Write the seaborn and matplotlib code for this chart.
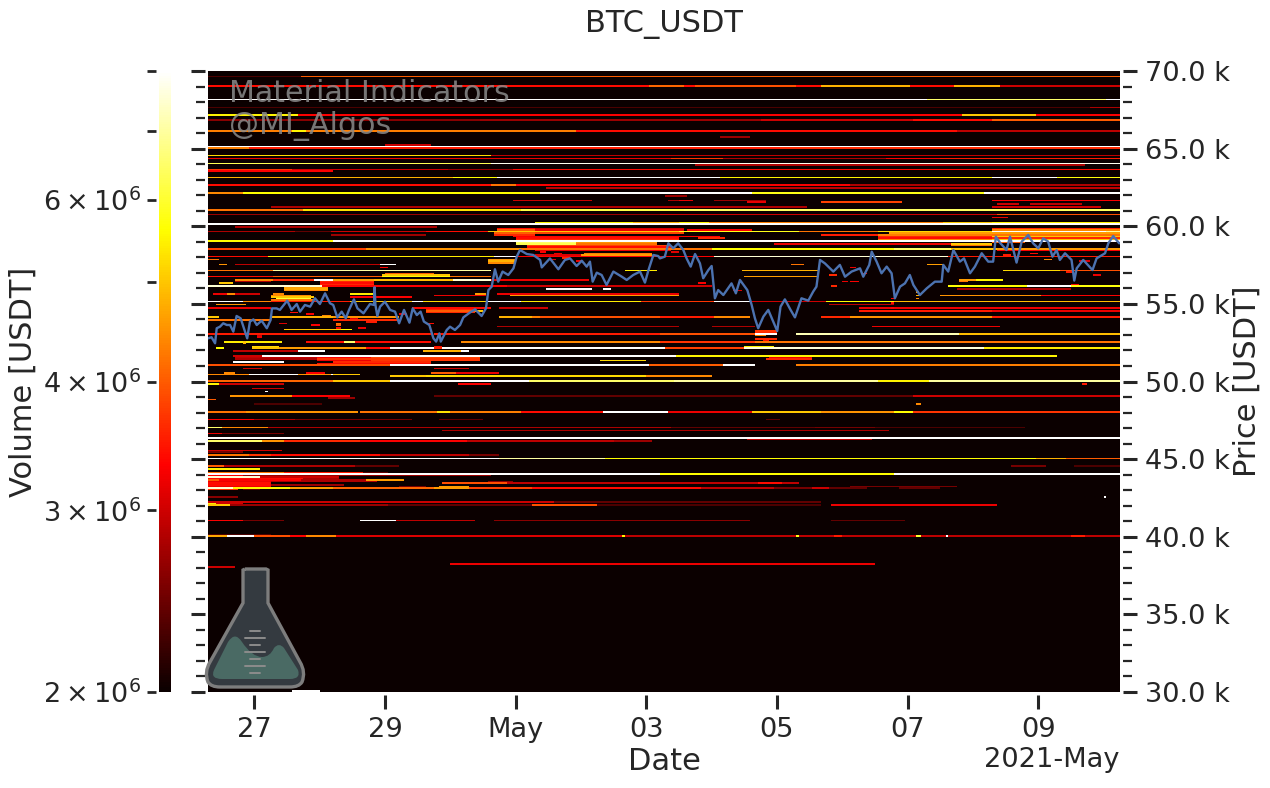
import numpy as np
import pandas as pd
import seaborn as sns
import matplotlib
matplotlib.use("Agg")
import matplotlib.pyplot as plt
import matplotlib.dates as mdates
from matplotlib.colors import LogNorm
from matplotlib.patches import PathPatch
from matplotlib.path import Path
from matplotlib.ticker import EngFormatter, MultipleLocator
from matplotlib.transforms import blended_transform_factory

symbol = "BTC_USDT"
start_time = "2021-04-26 07:00"
hours_total = 335
price_low, price_high, price_bin = 30000, 70000, 100

# resting order volume, (price, from hour, to hour, volume in millions of USDT)
bands_65k_70k = [
 (69600,0,34,2.3),(69600,34,335,4.0),
 (69000,0,162,3.4),(69000,162,175,4.1),(69000,175,179,3.4),(69000,179,216,3.9),(69000,216,225,3.4),
 (69000,225,258,4.8),(69000,258,274,3.4),(69000,274,291,4.8),(69000,291,335,3.0),
 (68100,0,264,8),(68100,264,330,6.5),(68100,330,335,8),
 (67600,0,324,2.3),(67600,324,335,2.8),
 (67100,0,33,5.5),(67100,33,277,3.3),(67100,277,304,5),(67100,304,335,3.3),
 (66800,0,100,2.6),(66800,100,203,2.7),(66800,203,259,3.0),(66800,259,288,3.4),(66800,288,335,4),
 (66100,0,31,4.3),(66100,31,36,5.5),(66100,36,135,4.3),(66100,135,275,3.4),(66100,275,335,2.9),
 (65700,188,199,2.7),(65200,65,82,3.0),
 (65100,0,335,8),
 (65000,0,15,4.3),(65000,15,210,3.5),(65000,210,335,3.6),
]
bands_60k_65k = [
 (64500,0,104,5.2),(64500,104,335,2.9),
 (64300,0,170,3.2),(64300,170,189,3.7),(64300,189,249,2.8),(64300,249,269,3.3),(64300,269,335,3.5),
 (64000,0,104,6.3),(64000,104,335,7.8),(63900,179,322,2.8),
 (63600,0,31,3.7),(63600,31,88,3),(63600,88,112,2.7),(63600,112,335,3.4),(63500,0,46,3.3),
 (63100,0,90,4.8),(63100,90,106,5.6),(63100,106,188,8),(63100,188,288,5.5),(63100,288,312,8),(63100,312,335,5.7),
 (62600,0,104,3.4),(62600,104,113,4.2),(62600,113,236,3.3),(62600,236,335,2.8),(62400,124,335,2.9),
 (62100,0,13,4.4),(62100,13,122,5.6),(62100,122,200,8),(62100,200,285,5.8),(62100,285,335,8),
 (61900,168,176,2.7),
 (61600,112,141,3.0),(61600,169,173,2.8),(61600,173,178,3.2),(61600,186,205,2.7),(61600,288,335,3.3),
 (61500,225,255,3.8),(61500,198,205,3.2),
 (61400,290,298,3.0),(61400,302,321,2.9),
 (61200,23,220,2.8),(61200,288,328,3.0),
 (61000,0,35,4.2),(61000,35,115,5.3),(61000,115,175,6.2),(61000,175,335,6.4),
 (60700,0,166,2.7),(60700,166,290,3.0),(60700,290,335,3.9),
 (60500,288,294,3.2),
 (60200,120,156,5.5),(60200,156,173,4.8),(60200,173,184,5.5),(60200,184,270,4.3),(60200,270,288,5),(60200,288,335,5.5),
 (60100,0,335,8),
 (59900,10,84,2.8),
]
bands_55k_60k = [
 (59800,106,120,3.4),(59800,120,175,3.0),(59800,288,335,3.6),
 (59700,106,120,4.0),(59700,120,175,3.2),(59700,176,200,3.3),(59700,288,335,4.4),
 (59600,0,32,2.8),(59600,32,45,2.4),(59600,45,80,3.0),(59600,80,103,3.4),(59600,103,173,5),
 (59600,173,217,5.8),(59600,217,246,4.2),(59600,246,288,5.2),(59600,288,330,8),(59600,330,335,7),
 (59500,105,120,4.0),(59500,120,175,3.8),(59500,250,288,4.6),(59500,288,335,4.6),
 (59400,45,80,2.7),(59400,105,120,3.6),(59400,225,246,3.5),(59400,246,288,4.3),(59400,288,335,4.2),
 (59300,112,188,3.3),(59300,246,288,3.6),(59300,288,335,5),
 (59200,113,173,3.4),(59200,180,190,3.6),(59200,246,288,3.4),(59200,288,335,3.6),
 (59100,113,173,3.6),(59100,246,288,4.4),(59100,288,335,5.0),
 (59000,0,46,5.6),(59000,46,335,8),
 (58900,113,135,6.5),(58900,135,165,4.5),(58900,288,300,4),
 (58800,113,135,6.3),(58800,135,165,4.2),(58800,208,273,3.2),(58800,273,288,5),
 (58700,117,170,3.8),(58700,273,288,4.2),
 (58600,117,170,3.4),
 (58500,0,58,3.8),(58500,58,115,4.5),(58500,115,185,4.2),(58500,185,252,5.6),(58500,252,273,6.5),(58500,273,290,5),(58500,290,335,4.6),
 (58400,120,170,3.2),(58400,290,335,3.3),
 (58200,138,163,4.3),
 (58100,120,137,3.1),(58100,137,163,4.6),
 (58000,0,22,3.4),(58000,22,105,5.4),(58000,105,113,8),(58000,113,186,3.3),(58000,186,272,7.5),(58000,272,335,3.5),
 (57800,0,4.5,4.2),(57800,103,113,4.5),(57700,103,113,4.8),(57600,103,113,4.4),
 (57500,4,7.5,4.5),(57500,10,63,2.9),(57500,63,69,8),(57500,214,219,4.2),(57500,264,270,4.6),
 (57100,0,24,4.2),(57100,24,104,7),(57100,153,165,5.4),(57100,196,224,4.8),(57100,292,313,5.2),(57100,313,335,3.9),
 (56900,65,83,4.0),(56800,64,89,5.0),
 (56700,0,24,3.4),(56700,24,64,4.0),(56700,64,89,5.6),(56700,89,104,4.2),(56700,197,224,4.6),
 (56500,10,24,4.4),(56500,24,39,3.6),(56500,39,46,8),(56500,46,61,4.6),(56500,61,90,4.9),(56500,90,104,7.5),(56500,104,140,3.2),(56500,281,292,5.5),
 (56400,41,61,3.6),(56400,10,23,2.8),(56300,41,61,3.4),(56300,4,9,5),(56200,41,61,3.6),
 (56100,0,42,7.5),(56100,42,110,3.3),(56100,110,185,3),(56100,272,301,5.6),(56100,301,317,8),(56100,317,335,5.7),
 (56000,28,44,4.6),(55900,28,44,4.7),(55900,124,141,8),(55900,145,148,8),(55900,275,317,2.8),
 (55800,28,44,4.4),
 (55600,2,7,3.2),(55600,7,10,4.4),(55600,10,19,3),(55600,52,61,5.4),(55600,24,28,4.4),(55600,98,102,4.6),(55600,106,173,3.2),
 (55500,23,38,4.4),(55500,83,102,3.2),(55500,111,173,4.6),(55500,269,306,4.5),(55500,306,335,3.3),
 (55400,23,39,5),(55400,52,75,3.3),(55300,25,38,6),(55200,23,39,4.2),
 (55100,0,13,8),(55100,13,23,4.4),(55100,23,52,3.5),(55100,52,75,5),(55100,75,79,8),(55100,79,103,5.2),(55100,103,115,8),
 (55100,115,159,5.4),(55100,159,186,3.7),(55100,186,199,8),(55100,199,227,3),(55100,227,252,5.6),(55100,252,335,4.9),
]
bands_50k_55k = [
 (54900,3,14,4.5),(54900,228,252,2.9),
 (54700,0,23,3.2),(54700,75,104,3.4),(54700,107,125,3.0),(54700,239,335,3.2),
 (54600,80,98,3.6),
 (54500,80,98,4),(54500,98,101,5),(54500,239,288,3.5),(54500,288,335,3.2),
 (54400,80,98,3.6),
 (54100,0,4,5),(54100,23,46,4.8),(54100,46,70,4.5),(54100,107,119,4.8),(54100,119,122,4.3),(54100,122,166,3.9),
 (54100,166,186,3.5),(54100,186,199,4.4),(54100,225,236,3.6),(54100,236,288,4.5),(54100,288,335,3.5),
 (53900,0,23,4.2),(53900,46,70,3.6),
 (53500,106,173,2.8),(53500,185,201,2.8),(53500,244,291,3.2),
 (53300,28,49,5),(53300,49,53,5.6),
 (53000,0,82,3.5),(53000,83,166,3.5),(53000,166,201,3.9),(53000,201,209,8),(53000,216,276,7.2),(53000,276,335,4.9),
 (52500,6,27,5.4),(52500,36,50,3.4),(52500,50,54,6.5),(52500,54,82,3.4),(52500,93,166,4.4),(52500,166,201,3.7),(52500,201,209,4.2),(52500,209,335,4.2),
 (52200,16,26,5.2),(52200,197,208,5.5),
 (52100,3,6,5.6),(52100,16,26,5),(52100,26,58,4.6),(52100,58,67,3.4),(52100,67,168,8),(52100,168,197,3.8),(52100,197,285,7.6),(52100,285,335,5.4),
 (51900,9,33,2.9),(51900,33,38,8),(51900,38,43,8),(51900,79,96,4.8),(51900,93,96,8),
 (51600,9,20,3),(51600,20,172,8),(51600,172,312,5.5),
 (51500,10,40,2.9),(51500,40,60,3.3),(51500,60,100,3.8),(51500,206,222,3.2),
 (51400,10,40,2.8),(51400,40,100,3.7),(51400,205,222,3.6),
 (51300,144,161,5.2),(51300,40,60,3.2),(51300,60,100,3.7),
 (51200,9,28,8),(51200,46,82,3.6),(51100,40,82,3.4),
 (51000,0,67,3.9),(51000,67,162,8),(51000,162,189,4),(51000,189,201,8),(51000,216,335,4.3),
 (50800,13,20,3),(50800,83,96,3),
 (50500,6,10,4.4),(50500,36,43,3.3),(50500,82,91,4),(50500,91,107,3.2),
 (50400,0,15,4.4),(50400,15,33,8),(50400,33,45,4.5),(50400,45,46,8),(50400,46,56,5),
 (50300,67,80,5),(50300,80,161,5.2),(50300,161,185,4.4),
 (50000,0,46,4.1),(50000,46,67,5),(50000,67,118,8),(50000,118,171,6.5),(50000,171,246,7),(50000,246,265,5.5),(50000,265,335,7),
]
bands_45k_50k = [
 (49800,0,4,5.5),(49800,4.5,28,3.0),(49800,92,104,3.3),(49800,321,323,3.5),
 (49500,16,28,3.0),(49300,21,22,8),
 (49000,8,31,4.5),(49000,31,52,3.3),(49000,83,201,2.4),(49000,201,259,2.4),(49000,259,335,3.0),
 (48900,44,54,2.7),(48800,0,3,4),
 (48500,17,42,2.3),(48500,260,262,4.4),
 (48000,0,14,4.2),(48000,14,55,4.5),(48000,56,84,4.2),(48000,84,89,5.3),(48000,89,115,4.3),(48000,115,145,3.4),(48000,145,169,8),
 (48000,169,200,3.2),(48000,200,225,5),(48000,225,252,4.5),(48000,252,259,5.6),(48000,259,335,3.7),
 (47500,0,17,3.3),(47500,17,32,2.8),(47500,32,75,2.5),(47500,85,101,2.4),(47500,205,210,2.4),
 (47000,0,5,6.5),(47000,5,22,4.4),(47000,22,170,2.8),(47000,170,223,2.4),(47000,223,245,2.5),(47000,245,300,2.3),
 (46800,86,250,2.8),
 (46600,0,5,3.2),(46600,5,28,2.5),
 (46300,0,335,8),
 (46100,0,20,6.5),(46100,20,28,4.5),(46100,28,56,3.6),(46100,56,95,3.3),(46100,95,149,2.9),(46100,149,163,2.7),(46200,198,244,2.9),
 (45500,0,27,3.0),(45400,0,13,2.5),
 (45200,0,15,4.2),(45200,15,23,3.7),(45200,23,63,3.4),(45200,63,96,2.9),(45200,96,107,2.5),
 (45000,0,107,8),(45000,107,146,7),(45000,146,304,5.6),(45000,304,315,4.8),(45000,315,335,4),
]
bands_30k_45k = [
 (44500,0,6,4),(44500,6,54,2.8),(44500,54,70,2.4),(44500,295,308,2.5),(44500,318,335,2.3),
 (44300,0,19,5.5),
 (44100,0,28,4.2),(44100,28,57,3.5),(44100,57,66,2.4),
 (44000,0,166,8),(44000,166,252,5.6),(44000,252,335,8),
 (43900,0,13,3.3),(43900,13,104,2.7),
 (43800,0,19,7.5),(43800,19,48,3),
 (43700,0,35,3.4),(43700,35,48,2.8),
 (43600,0,4,4),(43600,4,34,3.3),(43600,34,62,2.8),(43600,58,72,4.6),
 (43500,0,23,3.2),(43500,23,62,2.8),(43500,103,112,2.6),
 (43400,0,23,3.4),(43400,86,110,3.9),(43400,110,166,2.9),(43400,166,202,2.9),(43400,202,211,3.4),(43400,211,217,2.9),
 (43300,0,23,3.4),(43300,23,50,2.7),
 (43200,0,23,3.2),(43200,70,80,2.5),(43200,236,275,2.5),(43200,85,96,4.6),
 (43100,0,9,7.5),(43100,9,30,5.5),(43100,30,46,4.6),(43100,46,83,4.1),(43100,83,96,4.6),(43100,96,119,3.8),(43100,119,181,3.4),
 (43100,181,208,2.9),(43100,208,222,2.5),(43100,222,228,3.0),(43100,228,242,2.4),(43100,254,269,2.4),
 (43000,0,11,3.7),(43000,13,19,2.4),
 (42500,0,11,2.6),(42500,329,330,8),
 (42200,0,127,3.0),(42200,127,225,2.4),
 (42100,0,3,5.4),(42100,3,13,3),
 (42000,0,8,5),(42000,8,66,2.7),(42000,66,119.5,2.4),(42000,119.5,143,3.9),(42000,143,225,2.3),(42000,229,290,3.2),
 (41000,0,13,3.3),(41000,13,28,2.5),(41000,56,69,8),(41000,69,98,2.9),(41000,105,199,2.6),(41000,229,256,2.4),
 (40100,0,23,2.3),
 (40000,0,7.5,4.7),(40000,7.5,17,8),(40000,17,30,3.9),(40000,30,36,3.3),(40000,36,47,4.4),(40000,47,152,3.1),(40000,152,153,5.5),(40000,153,335,2.9),
 (40000,216,217,5.8),(40000,230,233,3.5),(40000,260,262,6),(40000,271,272,8),(40000,317,322,3.5),
 (38200,89,245,3.2),(38000,0,10,3),
 (30000,31,41,8),
]
# short clusters that sit near the price line
clusters_near_price = [
 (53700,47,49,4.2),(53600,47,49,4.0),(53400,47,49,3.4),(52900,18,20,3.0),(52800,18,20,3.2),(52500,13,14,5),(52400,13,14,4.8),
 (52200,83,86,3.4),(52100,83,86,3.6),(53200,201,209,3.7),(53100,201,209,3.6),(52900,201,205,4.4),(52700,201,209,3.6),(52600,204,206,3.4),
 (55700,260,261,4.6),(55500,260,261,4.8),(55300,260,261,4.4),(55300,251,252,3.3),(55000,251,252,3.4),(54700,251,252,3.3),
 (56100,229,231,3.6),(56400,233,235,3.2),(56400,236,239,3.3),(56500,276,282,4.6),(56400,276,279,4.2),
 (58300,122,124,3.3),(58200,127,130,3.2),(58000,120,123,3.4),(57900,130,133,3.6),(57800,126,128,3.1),(57700,135,137,3.2),
 (54400,30,33,3.4),(54300,36,39,3.3),(54200,42,45,4.4),(54000,52,55,3.2),(53800,58,62,3.5),(53700,26,29,3.1),(53600,38,41,3.3),
 (53400,55,58,3.2),(54300,70,73,3.2),(53700,80,83,3.4),(57300,63,66,3.3),(58300,170,173,3.1),(56300,180,183,3.3),(55800,193,196,3.1),
 (57300,236,238,3.2),(56900,240,242,3.4),(56800,228,231,3.6),(58100,292,295,3.5),(58200,302,305,3.4),(57800,307,310,4.4),(58000,296,298,3.2),
 (58400,313,316,3.3),(57700,320,324,3.1),(57000,315,318,3.5),(56800,325,328,3.2),(56200,317,320,3.4),
]

# price path, hours since start_time and last price in USDT
price_hours = [0,1.3,2.6,3.2,4.4,5.6,6.9,8.1,9.3,10.5,12,13,14.4,15.4,16.7,17.9,19.7,21.6,23,23.5,25.2,26.4,29.1,30.7,32.6,33.8,35.6,37.5,39.3,41.1,43,44.8,46,47.5,49.1,50.6,51.8,53.6,54.9,57.1,59.5,61,61.2,61.5,62.2,63.2,65,66.9,68.7,70.2,72,74,75.2,76.7,78.1,79.3,81.3,82.8,83.8,85,85.5,87.7,88.9,90.7,92.6,93.8,96.2,98.1,100.5,102.1,103,104.2,105.4,106.6,108.2,110.3,112.2,113.4,114.6,117.1,119.5,122,122.6,125.6,128.7,131.1,133,135.4,137.3,139.1,140.3,141.3,142.8,144.6,146.4,148.9,152,153.8,156.2,158.7,160.5,161.8,163.6,165.4,
 166,167.8,169.1,170.9,172.7,174.6,175.8,177.3,178.9,180.7,181.9,183.8,185,186.2,187.4,189.3,192.3,193.9,195.4,198.1,199.7,200.9,202.1,204,205.8,207.6,209.1,210.3,211.9,214,215.6,218,220.5,222.3,223.5,224.8,226.6,229.7,232.1,234,236.4,239.5,240.7,242.9,243.8,245.6,247.4,249.3,251.1,252.3,254.2,256,257.8,259.1,261.5,264,267,269.5,270.1,271.9,273.8,276.2,277.7,279.9,281.7,284.2,286.6,288.4,289.4,291.1,293.3,294.6,297,298.9,301.3,303.1,305,306.8,308.6,310.2,311.7,312.9,314.8,317.2,318.2,319.1,321.5,324.9,326.4,329.5,330.7,332.5,334.7]
price_usdt = [52780,52850,52460,53430,53530,53750,53640,53640,53210,54220,54070,53530,52780,53860,54000,53640,53920,53430,53960,54710,54710,54610,55210,54610,54990,54500,54930,54820,55360,54990,55680,55040,54930,54130,54500,54070,54610,55290,54710,54390,54990,54930,56070,54930,54220,54820,55140,54610,54500,53750,54610,53790,54710,54280,54500,53860,53640,52780,52570,53100,52570,53320,53530,53320,53640,54130,54440,54650,54220,54710,55890,56110,57230,56430,57080,56860,57290,58040,58470,58210,58150,57830,57350,57930,57230,57830,57930,57440,57780,57400,57720,56430,57010,56860,56220,57080,56750,56540,56860,57080,56370,57180,58150,58080,
 57930,58040,58900,58580,58900,58470,57930,57400,58210,57610,56650,57180,57440,55360,55890,55570,56320,55680,56540,55890,54930,54070,53430,54180,54610,53860,53250,54820,55290,54610,54130,55360,55210,55790,56110,57830,57610,57080,57510,56750,57080,57290,56750,57510,58360,57720,56970,57400,56970,55360,56110,56320,56860,56220,55570,56000,56430,56430,57510,57080,58470,57720,57930,56970,57400,58260,57720,57720,59330,58900,58470,59330,57660,59010,59440,58900,58580,59220,59010,58040,58470,57830,58260,57830,56500,57290,57830,57180,57930,58260,58900,59370,58900]

sns.set_theme(style="ticks", context="talk")
plt.rcParams["font.family"] = ["DejaVu Sans"]

fig = plt.figure(figsize=(12.7, 7.88), dpi=100)
W, H = 1270.0, 788.0
ax = fig.add_axes([208/W, 1-692/H, 912/W, 621/H])
cax = fig.add_axes([159/W, 1-692/H, 12/W, 621/H])

n_rows = int((price_high-price_low)/price_bin)
volume = np.full((n_rows, hours_total), 2.0)
for band in (bands_65k_70k, bands_60k_65k, bands_55k_60k, bands_50k_55k, bands_45k_50k, bands_30k_45k, clusters_near_price):
    for price, h0, h1, v in band:
        row = int((price-price_low)/price_bin)
        volume[row, int(h0):max(int(h0)+1, int(h1))] = v

t0 = pd.Timestamp(start_time)
time_edges = t0 + pd.to_timedelta(np.arange(hours_total+1), unit="h")
price_edges = np.arange(price_low, price_high+price_bin, price_bin)
mesh = ax.pcolormesh(time_edges, price_edges, volume*1e6, cmap="hot",
                     norm=LogNorm(vmin=2e6, vmax=8e6, clip=True), shading="flat", rasterized=True)

price_df = pd.DataFrame({"Date": t0 + pd.to_timedelta(price_hours, unit="h"), "Price": price_usdt})
sns.lineplot(data=price_df, x="Date", y="Price", ax=ax, color="#4c72b0", lw=1.7, estimator=None, errorbar=None)

ax.set_xlim(time_edges[0], time_edges[-1])
ax.set_ylim(price_low, price_high)
for side in ("left", "right", "bottom"):
    ax.spines[side].set_position(("outward", 2.2))
    ax.spines[side].set_visible(False)
ax.spines["top"].set_visible(False)

ax.xaxis.set_major_locator(mdates.DayLocator(bymonthday=[27, 29, 1, 3, 5, 7, 9]))
ax.xaxis.set_major_formatter(mdates.ConciseDateFormatter(ax.xaxis.get_major_locator()))
ax.yaxis.set_major_locator(MultipleLocator(5000))
ax.yaxis.set_minor_locator(MultipleLocator(1000))
ax.yaxis.set_major_formatter(EngFormatter(places=1))
ax.yaxis.tick_right()
ax.tick_params(axis="y", which="major", left=True, right=True, labelleft=False, labelright=True,
               length=10, width=2.2, labelsize=19.6, pad=6)
ax.tick_params(axis="y", which="minor", left=True, right=True, length=6.5, width=1.6)
ax.tick_params(axis="x", which="major", length=10, width=2.2, labelsize=19.6, pad=6)
ax.xaxis.get_offset_text().set_fontsize(19.6)
ax.set_ylabel("Price [USDT]", fontsize=22)
ax.yaxis.set_label_position("right")
ax.yaxis.set_label_coords(1233/W, 0.5, transform=blended_transform_factory(fig.transFigure, ax.transAxes))
ax.set_xlabel("Date", fontsize=22, labelpad=3)
ax.set_title(symbol, fontsize=22, pad=28)

wm_color = "#8a8a8a"
ax.text(229/W, 1-93/H, "Material Indicators", transform=fig.transFigure, color=wm_color, alpha=0.85, fontsize=21.6, va="center")
ax.text(229/W, 1-126/H, "@MI_Algos", transform=fig.transFigure, color=wm_color, alpha=0.85, fontsize=21.6, va="center")

# flask badge in figure pixels
def fig_path(points, codes):
    return Path([(x/W, 1-y/H) for x, y in points], codes)
C, L, M = Path.CURVE3, Path.LINETO, Path.MOVETO
body = [(245,569),(243,570),(243,603),(210,662),(204,672),(208,682),(211,687),(220,687),(290,687),(299,687),(302,682),(306,672),(300,662),(268,603),(268,570),(266,569),(245,569)]
body_codes = [M,L,L,L,C,C,C,C,L,C,C,C,C,L,L,L,L]
ax.add_patch(PathPatch(fig_path(body, body_codes), facecolor="#343a40", edgecolor="#7d7d7d", lw=2.4,
                       transform=fig.transFigure, zorder=5, clip_on=False))
liquid = [(222,679),(210,679),(214,670),(228,642),(235,631),(242,642),(252,657),(262,657),(270,657),(274,648),(279,642),(284,648),(298,670),(301,679),(290,679),(222,679)]
liquid_codes = [M,C,C,L,C,C,C,C,C,C,C,C,L,C,C,L]
ax.add_patch(PathPatch(fig_path(liquid, liquid_codes), facecolor="#4a6a64", edgecolor="none",
                       transform=fig.transFigure, zorder=6, clip_on=False))
for y, half in [(631,5),(638,10),(645,5),(652,10),(659,5),(666,10),(673,5)]:
    ax.plot([(255-half)/W, (255+half)/W], [1-y/H, 1-y/H], color="#8c8c8c", lw=1.4,
            transform=fig.transFigure, zorder=7, clip_on=False)
ax.set_xlim(time_edges[0], time_edges[-1])
ax.set_ylim(price_low, price_high)

cb = fig.colorbar(mesh, cax=cax)
cb.outline.set_visible(False)
cax.yaxis.set_ticks_position("left")
cax.spines["left"].set_position(("outward", 2.5))
cax.set_yticks([2e6,3e6,4e6,5e6,6e6,7e6,8e6], labels=[r"$2\times10^{6}$", r"$3\times10^{6}$", r"$4\times10^{6}$", "", r"$6\times10^{6}$", "", ""])
cax.minorticks_off()
cax.tick_params(axis="y", length=6.5, width=2.0, labelsize=19.5, pad=4, left=True, right=False)
cax.yaxis.set_label_position("left")
cax.set_ylabel("Volume [USDT]", fontsize=22)
cax.yaxis.set_label_coords(38/W, 0.5, transform=blended_transform_factory(fig.transFigure, cax.transAxes))

fig.savefig("out.png", dpi=100)
